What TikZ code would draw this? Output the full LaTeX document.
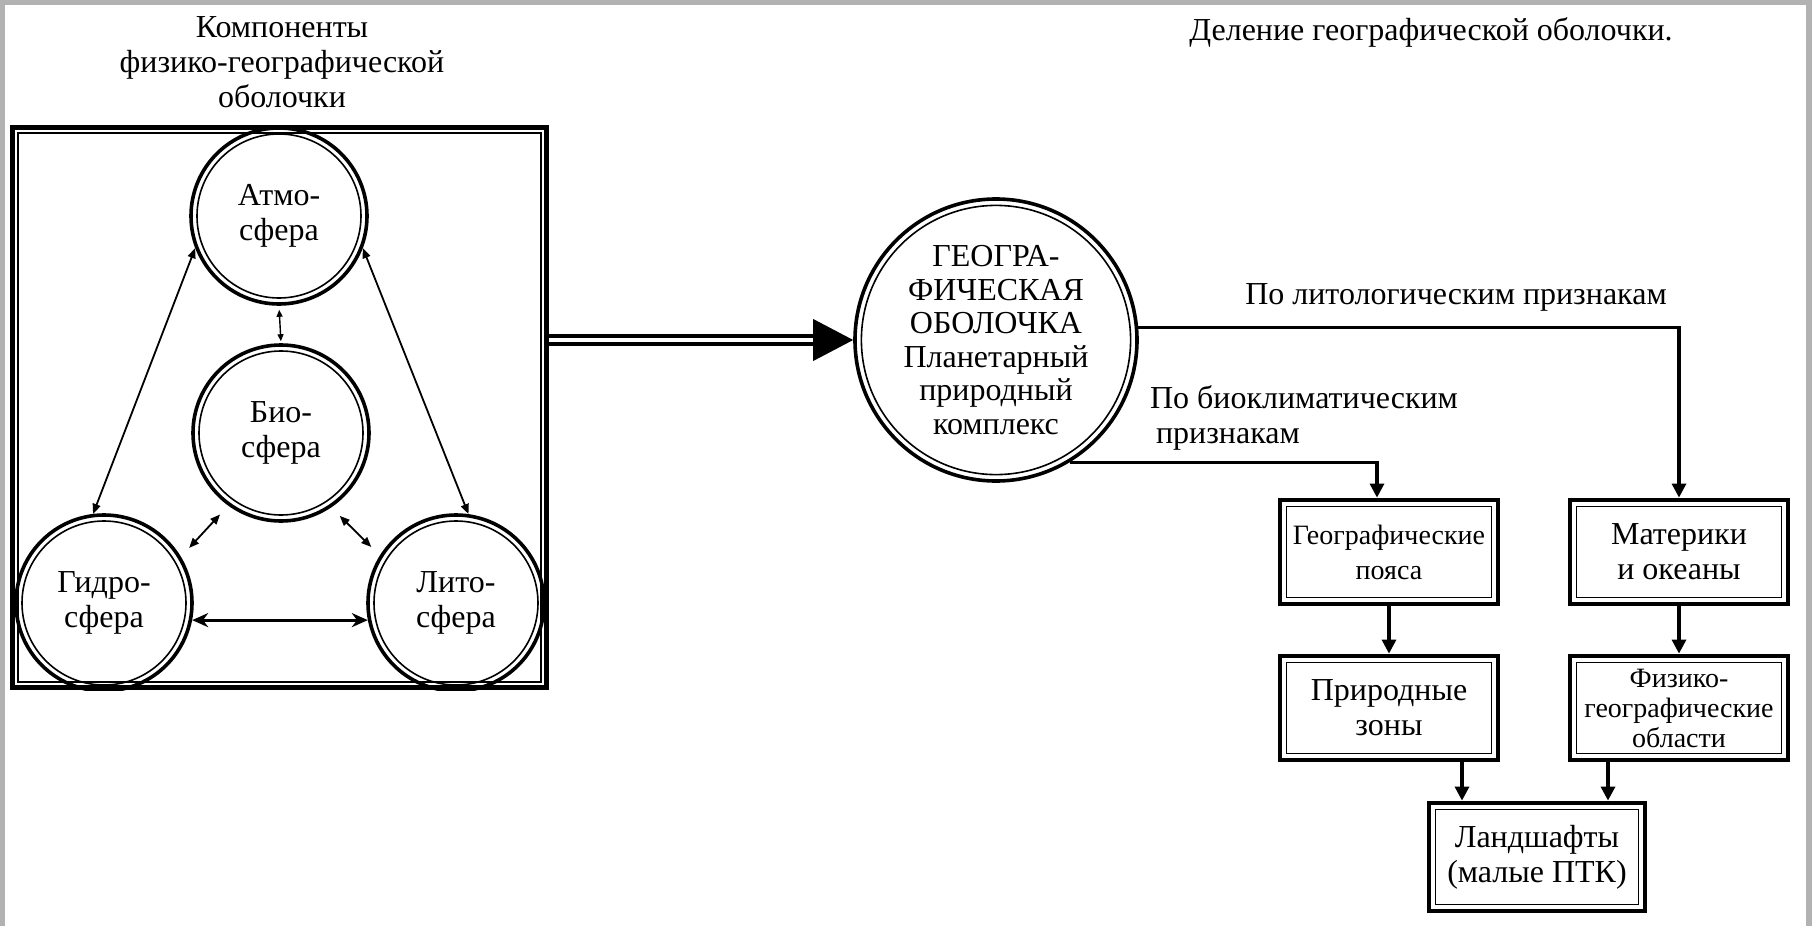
\documentclass[tikz,border=0pt]{standalone}
\usepackage{fontspec}
\setmainfont{Liberation Serif}
\usetikzlibrary{arrows.meta}
\begin{document}
\begin{tikzpicture}[x=0.5pt,y=-0.5pt,
  txt/.style={font=\fontsize{16}{17.5}\selectfont, align=center},
  smalltxt/.style={font=\fontsize{14}{17.5}\selectfont, align=center},
  sph/.style={circle, draw, line width=1.8pt, minimum size=88pt, inner sep=0pt, txt},
  inl/.style={line width=0.8pt},
  bx/.style={rectangle, draw, line width=2.4pt, minimum width=109pt, minimum height=52pt, inner sep=0pt, txt},
  conn/.style={line width=1.6pt, -{Triangle[length=7pt,width=7pt]}},
  duo/.style={line width=0.9pt, {Triangle[length=5pt,width=4pt]}-{Triangle[length=5pt,width=4pt]}},
  duosmall/.style={line width=0.7pt, {Triangle[length=3.5pt,width=3pt]}-{Triangle[length=3.5pt,width=3pt]}},
  duothick/.style={line width=1.6pt, {Stealth[length=8pt,width=7pt]}-{Stealth[length=8pt,width=7pt]}},
]
\useasboundingbox (0,0) rectangle (1812,926);
\fill[white] (0,0) rectangle (1812,926);
\fill[gray!60] (0,0) rectangle (1812,5);
\fill[gray!60] (0,0) rectangle (5,926);
\fill[gray!60] (1806,0) rectangle (1812,926);

% titles
\node[txt] (tleft) at (282,62) {Компоненты\\физико-географической\\оболочки};
\node[txt] (tright) at (1431,32) {Деление географической оболочки.};

% spheres, clipped by the frame
\begin{scope}
\clip (10,125) rectangle (549,690);
\node[sph] (atmo) at (279,216) {Атмо-\\сфера};
\node[sph] (bio) at (281,433) {Био-\\сфера};
\node[sph] (hydro) at (104,603) {Гидро-\\сфера};
\node[sph] (lito) at (456,603) {Лито-\\сфера};
\foreach \n in {atmo,bio,hydro,lito} \draw[inl] (\n.center) circle[radius=41pt];
\end{scope}

% frame
\node[draw, line width=2.5pt, minimum width=267pt, minimum height=280pt, inner sep=0pt] (frame) at (279.5,407.5) {};
\draw[line width=1pt] ([shift={(8,8)}]frame.north west) rectangle ([shift={(-8,-8)}]frame.south east);

% links between spheres
\draw[duo] (atmo.201) -- (hydro.97);
\draw[duo] (atmo.339) -- (lito.82);
\draw[duosmall, shorten <=2pt, shorten >=1pt] (atmo.south) -- (bio.north);
\draw[duo, shorten <=6pt, shorten >=6pt] (bio.234) -- (hydro.31);
\draw[duo, shorten <=6pt, shorten >=6pt] (bio.304) -- (lito.148);
\draw[duothick] (hydro.-11) -- (lito.191);

% geographic envelope
\node[sph, minimum size=141pt, font=\fontsize{16}{16.8}\selectfont] (geo) at (996,340) {ГЕОГРА-\\ФИЧЕСКАЯ\\ОБОЛОЧКА\\Планетарный\\природный\\комплекс};
\draw[inl] (geo.center) circle[radius=67.3pt];

% big double arrow
\draw[double, line width=1.8pt, double distance=2.4pt, shorten >=19pt] (geo.west -| frame.east) -- (geo.west);
\fill (geo.west) -- ++(-40,-21) -- ++(0,42) -- cycle;

% boxes
\node[bx, smalltxt] (gp) at (1389,552) {Географические\\пояса};
\node[bx] (mo) at (1679,552) {Материки\\и океаны};
\node[bx] (pz) at (1389,708) {Природные\\зоны};
\node[bx, smalltxt, font=\fontsize{14}{15}\selectfont] (fo) at (1679,708) {Физико-\\географические\\области};
\node[bx, minimum width=108pt, minimum height=54pt] (ls) at (1537,857) {Ландшафты\\(малые ПТК)};
\foreach \n in {gp,mo,pz,fo,ls}
  \draw[inl] ([shift={(9,9)}]\n.north west) rectangle ([shift={(-9,-9)}]\n.south east);

% connectors
\draw[conn] (geo.5) -| (mo.north);
\draw[conn] (geo.-59) -| ([xshift=-6pt]gp.north);
\draw[conn] (gp.south) -- (pz.north);
\draw[conn] (mo.south) -- (fo.north);
\draw[conn] ([xshift=36.5pt]pz.south) -- ([xshift=36.5pt]pz.south |- ls.north);
\draw[conn] ([xshift=-35.5pt]fo.south) -- ([xshift=-35.5pt]fo.south |- ls.north);

% labels
\node[txt, anchor=south] (l1) at (1456,318) {По литологическим признакам};
\node[txt, align=left, anchor=west] (l2) at (1143,418) {По биоклиматическим\\\hspace*{3pt}признакам};
\end{tikzpicture}
\end{document}
